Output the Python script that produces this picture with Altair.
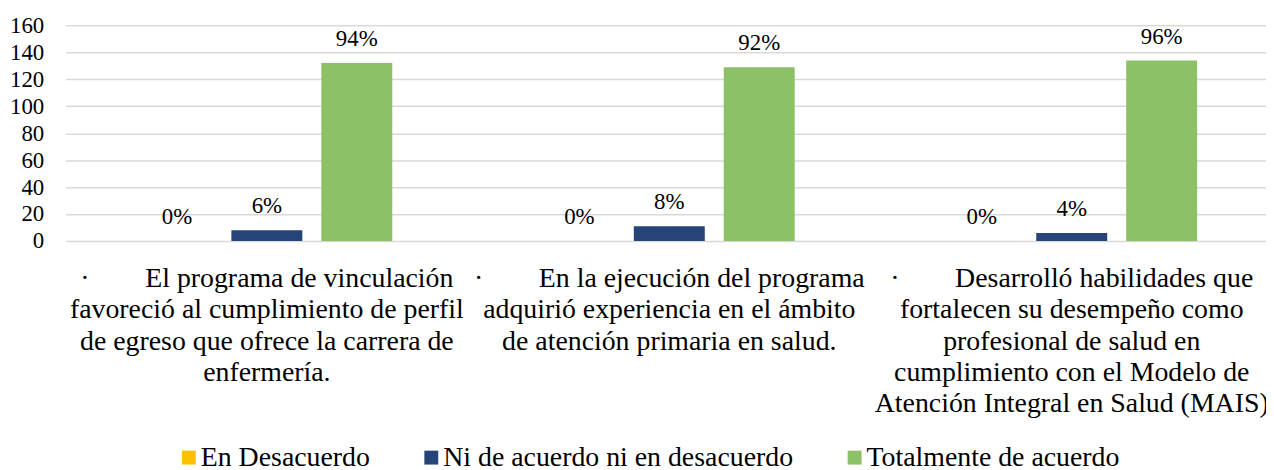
import altair as alt
import pandas as pd

NB = "\u00a0"
cat_lines = [
    ["·" + NB * 8 + "El programa de vinculación",
     "favoreció al cumplimiento de perfil",
     "de egreso que ofrece la carrera de",
     "enfermería."],
    ["·" + NB * 8 + "En la ejecución del programa",
     "adquirió experiencia en el ámbito",
     "de atención primaria en salud."],
    ["·" + NB * 8 + "Desarrolló habilidades que",
     "fortalecen su desempeño como",
     "profesional de salud en",
     "cumplimiento con el Modelo de",
     "Atención Integral en Salud (MAIS)"],
]
categories = ["|".join(l) for l in cat_lines]

series = ["En Desacuerdo", "Ni de acuerdo ni en desacuerdo", "Totalmente de acuerdo"]
colors = ["#FFC000", "#264478", "#8CC168"]

en_desacuerdo = [0, 0, 0]
ni_acuerdo = [8, 11, 6]
totalmente = [132, 129, 134]

pct_en = ["0%", "0%", "0%"]
pct_ni = ["6%", "8%", "4%"]
pct_tot = ["94%", "92%", "96%"]

y_ticks = [0, 20, 40, 60, 80, 100, 120, 140, 160]

rows = []
for s, vals, pcts in zip(series, [en_desacuerdo, ni_acuerdo, totalmente], [pct_en, pct_ni, pct_tot]):
    for c, v, p in zip(categories, vals, pcts):
        rows.append({"cat": c, "series": s, "value": v, "label": p})
df = pd.DataFrame(rows)

FONT = "Liberation Serif"

base = alt.Chart(df).encode(
    x=alt.X(
        "cat:N",
        sort=categories,
        scale=alt.Scale(paddingInner=0, paddingOuter=0, range=[0, 1215]),
        axis=alt.Axis(
            title=None,
            labelExpr="split(datum.label, '|')",
            labelAngle=0,
            labelFont=FONT,
            labelFontSize=28,
            labelColor="black",
            labelLineHeight=31.5,
            labelPadding=24,
            labelBaseline="top",
            labelAlign="center",
            labelLimit=0,
            labelOverlap=False,
            ticks=False,
            tickSize=0,
            domain=False,
        ),
    ),
    xOffset=alt.XOffset(
        "series:N",
        sort=series,
        scale=alt.Scale(paddingInner=0.211, paddingOuter=0.843),
    ),
    y=alt.Y(
        "value:Q",
        scale=alt.Scale(domain=[0, 160], nice=False),
        axis=alt.Axis(
            title=None,
            values=y_ticks,
            labelFont=FONT,
            labelFontSize=23,
            labelColor="black",
            labelPadding=22,
            labelOverlap=False,
            ticks=False,
            tickSize=0,
            domain=False,
            grid=True,
            gridColor="#d9d9d9",
            gridWidth=1.5,
        ),
    ),
)

bars = base.mark_bar().encode(
    color=alt.Color(
        "series:N",
        sort=series,
        scale=alt.Scale(domain=series, range=colors),
        legend=alt.Legend(
            title=None,
            orient="none",
            direction="horizontal",
            legendX=110,
            legendY=421,
            symbolType="square",
            symbolSize=196,
            symbolStrokeWidth=0,
            labelFont=FONT,
            labelFontSize=28,
            labelColor="black",
            labelOffset={"expr": "-2"},
            columnPadding=47,
            labelLimit=0,
        ),
    ),
)

text = base.mark_text(
    dy=-17, baseline="alphabetic", font=FONT, fontSize=23, color="black"
).encode(
    text="label:N",
)

chart = (
    alt.layer(bars, text)
    .properties(
        width=1208,
        height=217,
        padding={"left": 58, "top": 16, "right": 0, "bottom": 229},
        autosize="none",
    )
    .configure_view(stroke=None)
)

chart.save("out.html", embed_options={"renderer": "svg", "actions": False})
